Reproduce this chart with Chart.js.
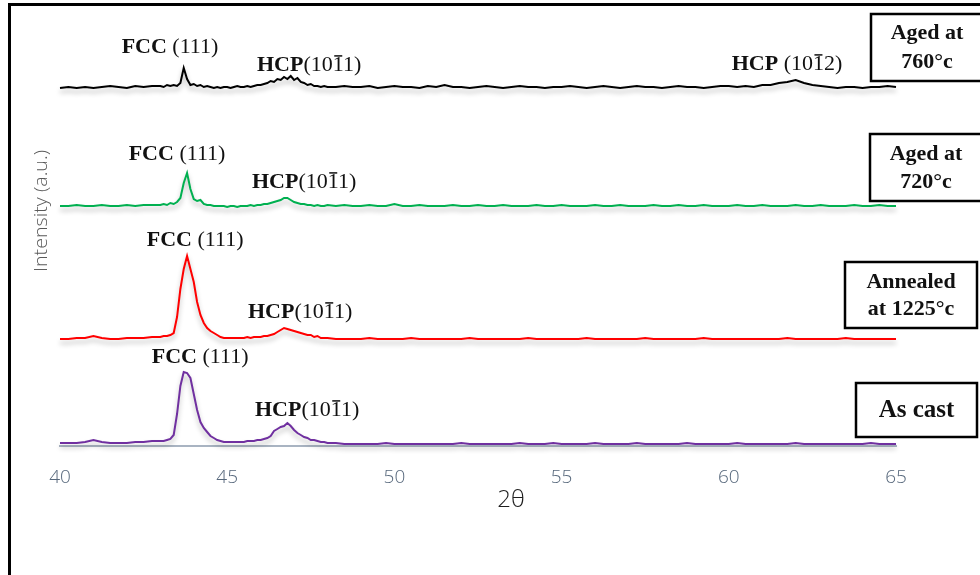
<!DOCTYPE html>
<html>
<head>
<meta charset="utf-8">
<script src="https://cdn.jsdelivr.net/npm/chart.js@4.4.1/dist/chart.umd.min.js"></script>
<style>
  html, body { margin: 0; padding: 0; background: #fff; }
  #wrap { position: relative; width: 980px; height: 575px; }
  canvas { display: block; }
</style>
</head>
<body>
<div id="wrap"><canvas id="c" width="980" height="575"></canvas></div>
<script>
// ---- data ----
const twoTheta = [
  40, 40.25, 40.5, 40.75, 41, 41.25, 41.5, 41.75, 42, 42.25, 42.5, 42.75,
  43, 43.1, 43.2, 43.3, 43.4, 43.5, 43.6, 43.7, 43.8, 43.9,
  44, 44.1, 44.2, 44.3, 44.4, 44.5, 44.6, 44.7, 44.8, 44.9,
  45, 45.1, 45.2, 45.3, 45.4, 45.5, 45.6, 45.7, 45.8, 45.9,
  46, 46.1, 46.2, 46.3, 46.4, 46.5, 46.6, 46.7, 46.8, 46.9,
  47, 47.1, 47.2, 47.3, 47.4, 47.5, 47.6, 47.7, 47.8, 47.9,
  48, 48.25, 48.5, 48.75,
  49, 49.25, 49.5, 49.75, 50, 50.25, 50.5, 50.75, 51, 51.25, 51.5, 51.75, 52, 52.25, 52.5, 52.75,
  53, 53.25, 53.5, 53.75, 54, 54.25, 54.5, 54.75, 55, 55.25, 55.5, 55.75, 56, 56.25, 56.5, 56.75,
  57, 57.25, 57.5, 57.75, 58, 58.25, 58.5, 58.75, 59, 59.25, 59.5, 59.75, 60, 60.25, 60.5, 60.75,
  61, 61.25, 61.5, 61.75, 62, 62.25, 62.5, 62.75, 63, 63.25, 63.5, 63.75, 64, 64.25, 64.5, 64.75,
  65
];

const aged760 = [
  0, 1, 0, 1, 0, 1, 2, 1, 0, 2, 1, 2,
  2, 1, 3, 2, 3, 2, 5, 20, 9, 3,
  4, 2, 3, 1, 2, 1, 0, 1, 0, 1,
  1, 0, 1, 2, 1, 1, 2, 1, 2, 3,
  3, 4, 5, 7, 6, 9, 8, 11, 9, 12,
  8, 10, 6, 5, 3, 4, 2, 2, 1, 2,
  1, 1, 2, 1,
  1, 2, 0, 1, 2, 1, 1, 0, 2, 1, 3, 1, 1, 0, 1, 2,
  1, 0, 1, 2, 1, 1, 0, 1, 1, 2, 1, 0, 1, 2, 1, 0,
  1, 2, 1, 1, 0, 1, 2, 1, 1, 0, 1, 2, 2, 1, 2, 1,
  3, 3, 5, 6, 8, 5, 3, 2, 1, 0, 1, 1, 0, 1, 1, 2,
  1
];

const aged720 = [
  1, 1, 2, 1, 1, 2, 1, 1, 2, 1, 2, 2,
  2, 3, 2, 4, 3, 5, 9, 24, 34, 18,
  8, 6, 7, 3, 2, 2, 1, 1, 1, 1,
  0, 1, 1, 0, 1, 1, 1, 2, 1, 2,
  2, 3, 3, 4, 5, 6, 7, 9, 9, 7,
  5, 4, 3, 3, 2, 2, 1, 2, 1, 1,
  2, 1, 2, 1,
  1, 2, 1, 1, 3, 1, 1, 2, 1, 1, 1, 2, 1, 1, 2, 1,
  1, 2, 1, 1, 1, 2, 1, 1, 2, 1, 1, 1, 2, 1, 1, 2,
  1, 1, 1, 2, 1, 1, 2, 1, 1, 2, 1, 1, 1, 2, 1, 1,
  2, 1, 1, 1, 2, 1, 1, 2, 1, 1, 1, 2, 1, 1, 2, 1,
  1
];

const annealed1225 = [
  0, 0, 1, 1, 3, 1, 0, 0, 1, 1, 1, 2,
  2, 3, 3, 4, 6, 22, 50, 70, 83, 70,
  57, 37, 24, 16, 11, 8, 6, 4, 2, 1,
  1, 1, 1, 1, 1, 1, 2, 1, 2, 2,
  2, 3, 3, 4, 5, 7, 9, 11, 10, 9,
  8, 7, 6, 5, 4, 4, 2, 3, 1, 1,
  1, 0, 0, 0,
  0, 1, 0, 0, 0, 0, 1, 0, 0, 0, 0, 0, 0, 1, 0, 0,
  0, 0, 0, 0, 1, 0, 0, 0, 0, 0, 0, 1, 0, 0, 0, 0,
  0, 0, 1, 0, 0, 0, 0, 0, 0, 1, 0, 0, 0, 0, 0, 0,
  0, 0, 0, 1, 0, 0, 0, 0, 0, 0, 1, 0, 0, 0, 0, 0,
  0
];

const asCast = [
  1, 1, 1, 2, 4, 2, 1, 1, 1, 2, 2, 3,
  3, 3, 4, 5, 9, 30, 58, 72, 71, 66,
  50, 34, 22, 16, 12, 8, 6, 4, 3, 2,
  2, 2, 2, 2, 2, 2, 3, 3, 3, 4,
  4, 5, 6, 8, 13, 15, 17, 18, 21, 18,
  14, 11, 9, 7, 6, 4, 4, 3, 2, 2,
  1, 1, 0, 0,
  0, 0, 0, 1, 0, 0, 0, 0, 0, 0, 0, 0, 1, 0, 0, 0,
  0, 0, 0, 1, 0, 0, 0, 1, 0, 0, 0, 0, 1, 0, 0, 0,
  0, 1, 0, 0, 0, 0, 0, 1, 0, 0, 0, 0, 0, 1, 0, 0,
  0, 0, 0, 0, 1, 0, 0, 0, 0, 0, 0, 0, 0, 1, 0, 0,
  0
];

const xTicks = [40, 45, 50, 55, 60, 65];
const sampleNames = ['Aged at 760°c', 'Aged at 720°c', 'Annealed at 1225°c', 'As cast'];

// ---- styling / stacking (not data) ----
const stackOffset = [358, 239, 107, 2];
const lineColors = ['#000000', '#00b050', '#ff0000', '#7030a0'];
const seriesValues = [aged760, aged720, annealed1225, asCast];

// peak labels: [series index, 2θ centre, height above series baseline, bold, regular, overline char index]
const peakLabels = [
  [0, 43.29, 41, 'FCC', ' (111)', -1],
  [0, 47.45, 23, 'HCP', '(1011)', 3],
  [0, 61.74, 24, 'HCP', ' (1012)', 4],
  [1, 43.50, 53, 'FCC', ' (111)', -1],
  [1, 47.30, 25, 'HCP', '(1011)', 3],
  [2, 44.04, 99, 'FCC', ' (111)', -1],
  [2, 47.18, 27, 'HCP', '(1011)', 3],
  [3, 44.19, 87, 'FCC', ' (111)', -1],
  [3, 47.39, 34, 'HCP', '(1011)', 3]
];

// sample boxes on the right
const sampleBoxes = [
  { x: 871, y: 14, w: 112, h: 67, lines: ['Aged at', '760°c'], ly: [33, 62], size: 22 },
  { x: 870, y: 134, w: 112, h: 67, lines: ['Aged at', '720°c'], ly: [154, 182], size: 22 },
  { x: 845, y: 262, w: 132, h: 66, lines: ['Annealed', 'at 1225°c'], ly: [282, 309], size: 22 },
  { x: 856, y: 383, w: 121, h: 54, lines: ['As cast'], ly: [411], size: 25 }
];

const datasets = seriesValues.map((vals, s) => ({
  label: sampleNames[s],
  data: twoTheta.map((x, i) => ({ x: x, y: vals[i] + stackOffset[s] })),
  borderColor: lineColors[s],
  borderWidth: 2,
  pointRadius: 0,
  tension: 0,
  fill: false,
  clip: false
}));

const framePlugin = {
  id: 'frame',
  beforeDraw(chart) {
    const c = chart.ctx;
    c.save();
    c.fillStyle = '#ffffff';
    c.fillRect(0, 0, chart.width, chart.height);
    c.fillStyle = '#000000';
    c.fillRect(8, 3, chart.width - 8, 3);
    c.fillRect(8, 3, 3, chart.height - 3);
    c.restore();
  }
};

const shadowPlugin = {
  id: 'lineShadow',
  beforeDatasetDraw(chart) {
    const c = chart.ctx;
    c.save();
    c.shadowColor = 'rgba(0,0,0,0.28)';
    c.shadowBlur = 5;
    c.shadowOffsetX = 0;
    c.shadowOffsetY = 4;
  },
  afterDatasetDraw(chart) {
    chart.ctx.restore();
  }
};

function drawPeakLabel(c, cx, cy, bold, regular, overIdx) {
  const fs = 22;
  const fb = 'bold ' + fs + 'px "Liberation Serif", "Times New Roman", serif';
  const fr = fs + 'px "Liberation Serif", "Times New Roman", serif';
  c.font = fb; const wb = c.measureText(bold).width;
  c.font = fr; const wr = c.measureText(regular).width;
  const x0 = cx - (wb + wr) / 2;
  const base = cy + 6;
  c.fillStyle = '#111111';
  c.textAlign = 'left';
  c.textBaseline = 'alphabetic';
  c.font = fb; c.fillText(bold, x0, base);
  c.font = fr; c.fillText(regular, x0 + wb, base);
  if (overIdx >= 0) {
    const pre = c.measureText(regular.slice(0, overIdx)).width;
    const cw = c.measureText(regular.charAt(overIdx)).width;
    c.fillRect(x0 + wb + pre + 1.5, base - fs * 0.72, cw - 3, 1.5);
  }
}

const annotatePlugin = {
  id: 'annotate',
  afterDraw(chart) {
    const c = chart.ctx;
    const xs = chart.scales.x, ys = chart.scales.y;
    c.save();
    peakLabels.forEach(([s, x2t, dy, b, r, oi]) => {
      drawPeakLabel(c, xs.getPixelForValue(x2t), ys.getPixelForValue(stackOffset[s] + dy), b, r, oi);
    });
    // boxes
    sampleBoxes.forEach(bx => {
      c.lineWidth = 2.5;
      c.strokeStyle = '#000000';
      c.strokeRect(bx.x, bx.y, bx.w, bx.h);
      c.fillStyle = '#111111';
      c.font = 'bold ' + bx.size + 'px "Liberation Serif", "Times New Roman", serif';
      c.textAlign = 'center';
      c.textBaseline = 'middle';
      bx.lines.forEach((t, i) => c.fillText(t, bx.x + bx.w / 2, bx.ly[i]));
    });
    // x-axis title
    c.font = '300 24px "Open Sans", "Noto Sans", sans-serif';
    c.fillStyle = '#1e1e1e';
    c.textAlign = 'center';
    c.textBaseline = 'middle';
    c.fillText('2θ', 511, 500);
    // y-axis title
    c.translate(42, 211);
    c.rotate(-Math.PI / 2);
    c.font = '300 19px "Open Sans", "Noto Sans", sans-serif';
    const t = 'Intensity (a.u.)';
    const w = c.measureText(t).width;
    c.scale(122 / w, 1);
    c.fillStyle = '#595959';
    c.fillText(t, 0, 0);
    c.restore();
  }
};

new Chart(document.getElementById('c'), {
  type: 'line',
  data: { datasets: datasets },
  options: {
    responsive: false,
    animation: false,
    layout: { padding: { left: 60, right: 84, top: 10, bottom: 0 } },
    plugins: { legend: { display: false }, tooltip: { enabled: false } },
    scales: {
      x: {
        type: 'linear',
        min: 40,
        max: 65,
        afterBuildTicks: (scale) => { scale.ticks = xTicks.map(v => ({ value: v })); },
        afterFit: (scale) => { scale.height = 129; },
        ticks: {
          color: '#56677b',
          font: { family: '"Open Sans", "Noto Sans", sans-serif', size: 19, weight: 300 },
          padding: 20,
          maxRotation: 0
        },
        grid: { display: false, drawTicks: false },
        border: { display: true, color: '#a9b4c2', width: 2 },
        title: { display: false }
      },
      y: { display: false, min: 0, max: 436 }
    }
  },
  plugins: [framePlugin, shadowPlugin, annotatePlugin]
});
</script>
</body>
</html>
